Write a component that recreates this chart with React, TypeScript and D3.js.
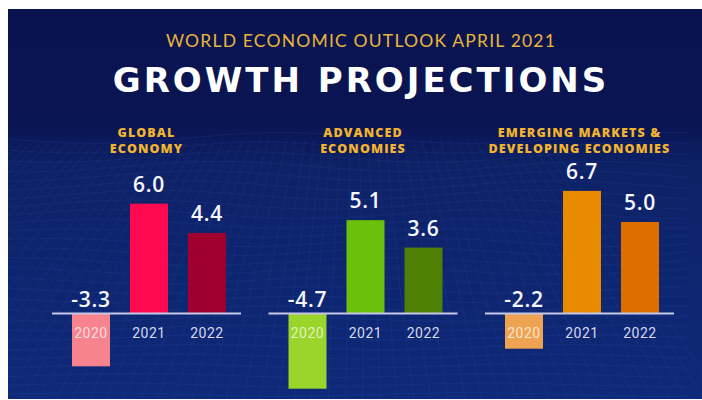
import React, { useEffect } from "react";
import * as d3 from "d3";

// chart data
const years = ["2020", "2021", "2022"];
const groups = ["global", "advanced", "emerging"];
const groupTitles = [
  ["GLOBAL", "ECONOMY"],
  ["ADVANCED", "ECONOMIES"],
  ["EMERGING MARKETS &", "DEVELOPING ECONOMIES"],
];
const globalValues = [-3.3, 6.0, 4.4];
const advancedValues = [-4.7, 5.1, 3.6];
const emergingValues = [-2.2, 6.7, 5.0];
const groupValues = [globalValues, advancedValues, emergingValues];

const globalColors = ["#F7838F", "#FF0A50", "#A1002F"];
const advancedColors = ["#9BD42A", "#6BC10A", "#4F7F04"];
const emergingColors = ["#EEA352", "#E88A00", "#DF6E00"];
const groupColors = [globalColors, advancedColors, emergingColors];

const W = 702;
const H = 400;
const baseline = 313.5;

const App: React.FC = () => {
  useEffect(() => {
    document.body.style.margin = "0";
  }, []);

  const panelX = d3
    .scaleBand<string>()
    .domain(groups)
    .range([52, 674])
    .paddingInner(0.127)
    .paddingOuter(0);

  const y = d3
    .scaleLinear()
    .domain([-5, 0, 7])
    .range([baseline + 5 * 16, baseline, baseline - 7 * 18.3]);

  // decorative wire mesh in the background
  const meshLine = d3.line<[number, number]>().curve(d3.curveBasis);
  const hLines: [number, number][][] = [];
  for (let r = 0; r < 28; r++) {
    const yy = 138 + r * 9.5;
    const pts: [number, number][] = [];
    for (let xx = 8; xx <= W; xx += 40) {
      pts.push([xx, yy + Math.sin(xx / 60 + r * 0.35) * (6 - r * 0.15)]);
    }
    hLines.push(pts);
  }
  const vLines: [number, number][][] = [];
  for (let c = -20; c <= 60; c++) {
    const xt = 8 + c * 9;
    const xb = 355 + (xt - 355) * 1.9;
    vLines.push([
      [xt, 140],
      [(xt + xb) / 2 + Math.sin(c) * 3, 270],
      [xb, H],
    ]);
  }

  return (
    <svg width={W} height={H} style={{ display: "block" }}>
      <defs>
        <linearGradient id="bg" x1="0" y1="0" x2="0" y2="1">
          <stop offset="0" stopColor="#09134E" />
          <stop offset="0.3" stopColor="#0A1553" />
          <stop offset="0.4" stopColor="#0D2166" />
          <stop offset="1" stopColor="#0F2A7A" />
        </linearGradient>
        <clipPath id="panel">
          <rect x={8} y={9} width={W - 8} height={390} />
        </clipPath>
      </defs>
      <rect x={0} y={0} width={W} height={H} fill="#fff" />
      <rect x={8} y={9} width={W - 8} height={390} fill="url(#bg)" />
      <g clipPath="url(#panel)" fill="none" stroke="#3A63C8" strokeWidth={0.6} opacity={0.22}>
        {hLines.map((p, i) => (
          <path key={"h" + i} d={meshLine(p) || ""} />
        ))}
        {vLines.map((p, i) => (
          <path key={"v" + i} d={meshLine(p) || ""} />
        ))}
      </g>

      <text
        x={361}
        y={47}
        textAnchor="middle"
        fill="#E9B53A"
        fontFamily="Lato, 'Open Sans', sans-serif"
        fontSize={17.5}
        letterSpacing={1.2}
      >
        WORLD ECONOMIC OUTLOOK APRIL 2021
      </text>
      <text
        x={361}
        y={92}
        textAnchor="middle"
        fill="#FFFFFF"
        fontFamily="'DejaVu Sans', 'Open Sans', sans-serif"
        fontWeight={700}
        fontSize={34}
        letterSpacing={3}
      >
        GROWTH PROJECTIONS
      </text>

      {groups.map((g, gi) => {
        const x0 = panelX(g) || 0;
        const pw = panelX.bandwidth();
        const cx = x0 + pw / 2;
        const x = d3
          .scaleBand<string>()
          .domain(years)
          .range([x0 + 10, x0 + pw - 5])
          .paddingInner(0.345)
          .paddingOuter(0.1725);
        const values = groupValues[gi];
        const colors = groupColors[gi];
        return (
          <g key={g}>
            {groupTitles[gi].map((t, li) => (
              <text
                key={li}
                x={cx}
                y={137 + li * 16}
                textAnchor="middle"
                fill="#F2B42E"
                fontFamily="'Open Sans', Lato, sans-serif"
                fontWeight={800}
                fontSize={12.5}
                letterSpacing={1.1}
              >
                {t}
              </text>
            ))}
            {values.map((v, i) => {
              const bx = x(years[i]) || 0;
              const top = Math.min(y(v), y(0));
              const h = Math.abs(y(v) - y(0));
              return (
                <rect
                  key={"b" + i}
                  x={bx}
                  y={top}
                  width={x.bandwidth()}
                  height={h}
                  fill={colors[i]}
                />
              );
            })}
            <line
              x1={x0}
              x2={x0 + pw}
              y1={baseline}
              y2={baseline}
              stroke="#C6C8E8"
              strokeWidth={2}
            />
            {values.map((v, i) => {
              const bx = (x(years[i]) || 0) + x.bandwidth() / 2;
              const ly = v >= 0 ? y(v) - 12 : y(0) - 7;
              return (
                <text
                  key={"v" + i}
                  x={bx}
                  y={ly}
                  textAnchor="middle"
                  fill="#F7F7FF"
                  fontFamily="'Open Sans', Lato, sans-serif"
                  fontWeight={600}
                  fontSize={21}
                  letterSpacing={0.8}
                >
                  {v.toFixed(1)}
                </text>
              );
            })}
            {years.map((yr, i) => (
              <text
                key={"y" + i}
                x={(x(yr) || 0) + x.bandwidth() / 2}
                y={338}
                textAnchor="middle"
                fill={values[i] < 0 ? "rgba(255,255,255,0.72)" : "#D6D8F0"}
                fontFamily="Roboto, 'Open Sans', sans-serif"
                fontSize={14}
                letterSpacing={0.5}
              >
                {yr}
              </text>
            ))}
          </g>
        );
      })}
    </svg>
  );
};

export default App;
